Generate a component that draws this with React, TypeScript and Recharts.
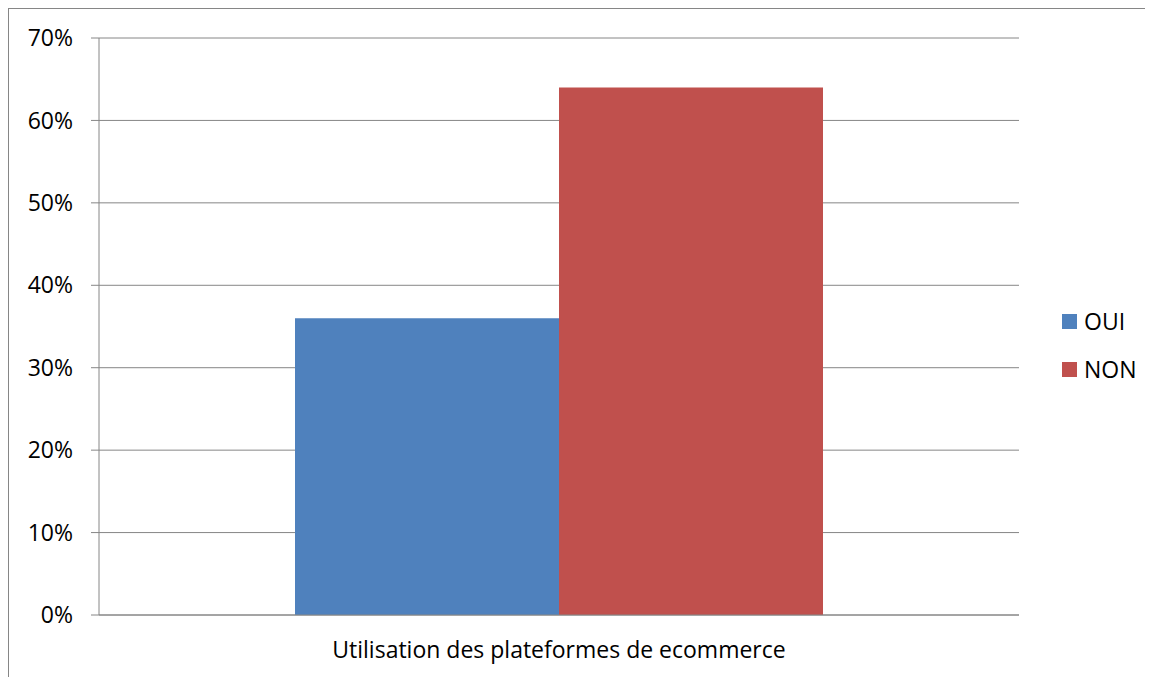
import React from 'react';
import { BarChart, Bar, XAxis, YAxis, CartesianGrid, Legend } from 'recharts';

const categories = ['Utilisation des plateformes de ecommerce'];
const ouiValues = [0.36];
const nonValues = [0.64];
const yTicks = [0, 0.1, 0.2, 0.3, 0.4, 0.5, 0.6, 0.7];

const SERIES = [
  { key: 'oui', name: 'OUI', color: '#4F81BD' },
  { key: 'non', name: 'NON', color: '#C0504D' },
];

const AXIS_GRAY = '#868686';
const FONT = "'Open Sans', Lato, sans-serif";
const FONT_SIZE = 23;

const data = categories.map((name, i) => ({
  name,
  oui: ouiValues[i],
  non: nonValues[i],
}));

const renderLegend = () => (
  <div style={{ fontFamily: FONT, fontSize: FONT_SIZE, color: '#000', lineHeight: 1 }}>
    {SERIES.map((s) => (
      <div key={s.key} style={{ display: 'flex', alignItems: 'center', height: 48 }}>
        <span style={{ width: 15, height: 15, background: s.color, display: 'inline-block', marginRight: 7 }} />
        <span>{s.name}</span>
      </div>
    ))}
  </div>
);

export default function App() {
  return (
    <div
      style={{
        width: 1145,
        height: 669,
        borderTop: `1px solid ${AXIS_GRAY}`,
        borderLeft: `1px solid ${AXIS_GRAY}`,
        boxSizing: 'border-box',
        background: '#fff',
      }}
    >
      <BarChart
        width={1144}
        height={668}
        data={data}
        margin={{ top: 29, right: 44, left: 0, bottom: 12 }}
        barGap={0}
        barSize={264}
      >
        <CartesianGrid horizontal vertical={false} stroke={AXIS_GRAY} strokeWidth={1} />
        {/* edge tick marks at both ends of the category axis */}
        <XAxis
          xAxisId="edges"
          type="number"
          domain={[0, 1]}
          ticks={[0, 1]}
          height={0}
          axisLine={false}
          tickLine={{ stroke: AXIS_GRAY }}
          tickSize={6}
          tickFormatter={() => ''}
        />
        <XAxis
          dataKey="name"
          height={50}
          axisLine={{ stroke: AXIS_GRAY }}
          tickLine={false}
          tickSize={0}
          tickMargin={27}
          tick={{ fontFamily: FONT, fontSize: FONT_SIZE, fill: '#000' }}
        />
        <YAxis
          width={90}
          domain={[0, 0.7]}
          ticks={yTicks}
          interval={0}
          axisLine={{ stroke: AXIS_GRAY }}
          tickLine={{ stroke: AXIS_GRAY }}
          tickSize={8}
          tickMargin={18}
          tickFormatter={(v: number) => `${Math.round(v * 100)}%`}
          tick={{ fontFamily: FONT, fontSize: FONT_SIZE, fill: '#000' }}
        />
        <Legend
          layout="vertical"
          align="right"
          verticalAlign="middle"
          content={renderLegend}
          wrapperStyle={{ position: 'absolute', left: 1053, top: 288, width: 90 }}
        />
        {SERIES.map((s) => (
          <Bar key={s.key} dataKey={s.key} name={s.name} fill={s.color} isAnimationActive={false} />
        ))}
      </BarChart>
    </div>
  );
}
